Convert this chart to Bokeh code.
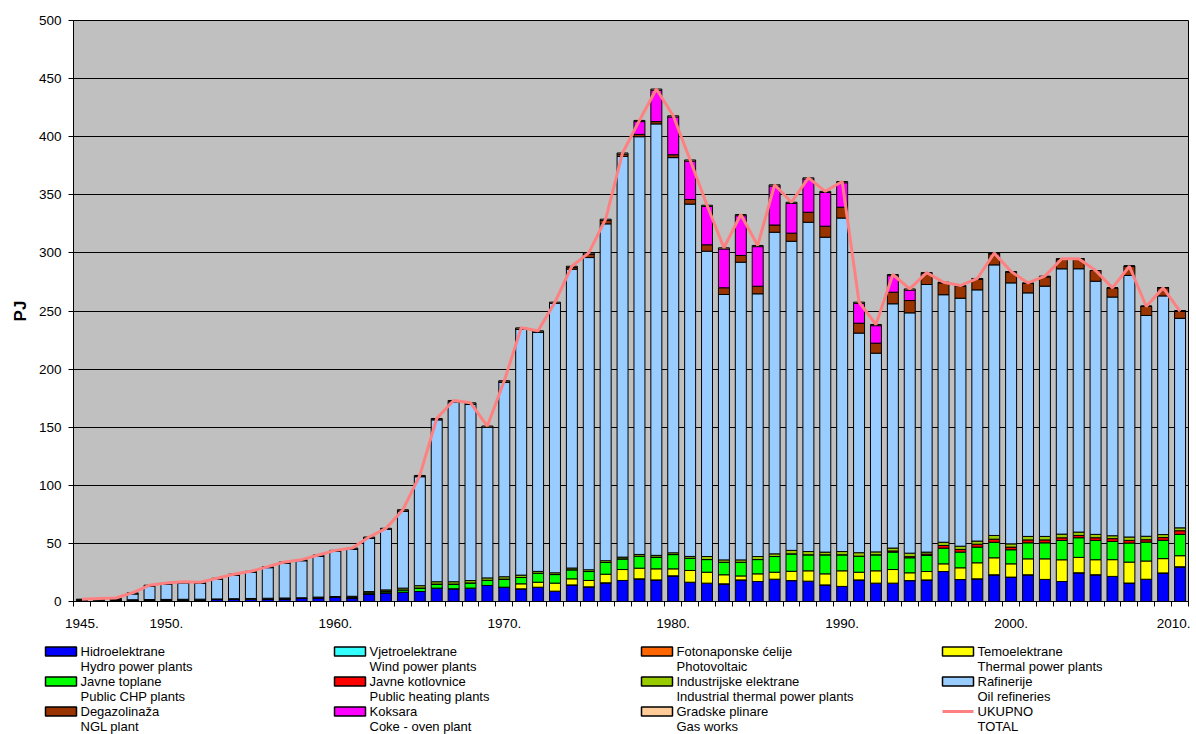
from bokeh.plotting import figure
from bokeh.models import ColumnDataSource, FixedTicker, Range1d
from bokeh.core.properties import value
from bokeh.embed import file_html
from bokeh.resources import INLINE

years = list(range(1945, 2011))

hydro = [0.5, 0.6, 0.8, 1.0, 1.2, 1.3, 1.4, 1.5, 1.7, 1.9,
         2.0, 2.2, 2.4, 2.6, 3.0, 3.5, 3.0, 6.5, 7.5, 8.0,
         8.6, 11.5, 11.0, 11.5, 13.8, 12.3, 10.9, 12.3, 8.9, 14.3,
         12.6, 16.1, 18.1, 19.5, 18.6, 22.1, 16.6, 15.8, 15.2, 18.6,
         17.2, 19.2, 18.0, 17.5, 14.3, 13.0, 18.6, 15.8, 15.8, 18.0,
         18.6, 25.8, 18.9, 19.5, 23.0, 21.0, 23.0, 19.0, 17.2, 24.7,
         23.0, 21.5, 15.8, 19.0, 24.4, 29.5]
wind = [0.0] * 59 + [0.05, 0.05, 0.1, 0.1, 0.15, 0.2, 0.4]
pv = [0.0] * 66
thermal = [0.0] * 26 + [4.3, 4.3, 6.9, 5.2, 5.5, 7.4, 9.4, 9.2, 9.5, 6.0,
                        10.1, 9.4, 7.8, 3.4, 6.6, 6.0, 8.0, 8.9, 9.5, 13.4,
                        6.6, 10.6, 11.7, 6.7, 7.2, 6.6, 10.1, 13.8, 14.6, 11.4,
                        13.7, 17.7, 18.7, 13.2, 12.9, 14.4, 18.0, 15.7, 12.3, 9.5]
chp = [0.0] * 16 + [0.5, 1.0, 1.5, 2.0, 3.0, 3.5, 4.0, 4.5, 4.5, 7.0,
                    5.5, 7.8, 7.4, 7.8, 7.7, 10.1, 9.2, 10.3, 10.1, 12.3,
                    10.6, 10.9, 10.8, 11.8, 12.3, 13.5, 15.0, 13.8, 16.4, 13.8,
                    13.8, 13.8, 15.0, 12.9, 13.8, 13.5, 13.5, 13.5, 13.4, 12.1,
                    13.8, 13.8, 16.6, 16.9, 16.6, 15.7, 16.4, 16.3, 15.8, 18.4]
heating = [0.0] * 48 + [1.0, 1.0, 1.2, 2.3, 2.3, 2.5, 2.6, 2.3, 2.5, 2.5,
                        2.3, 2.0, 2.3, 2.4, 2.3, 2.0, 2.3, 3.1]
industrial = [0.4, 0.5, 0.5, 0.5, 0.5, 0.5, 0.5, 0.5, 0.5, 0.5,
              0.6, 0.6, 0.6, 0.6, 0.8, 0.8, 1.0, 1.0, 1.0, 1.5,
              2.0, 2.0, 2.0, 2.0, 2.0, 2.0, 2.0, 1.5, 1.5, 1.5,
              1.5, 1.5, 1.5, 1.5, 1.5, 1.5, 1.5, 2.6, 2.0, 2.0,
              2.6, 2.3, 3.0, 2.8, 2.3, 2.8, 3.0, 2.5, 2.5, 3.0,
              1.7, 2.8, 2.8, 2.7, 3.2, 2.8, 3.0, 3.0, 3.2, 2.9,
              2.9, 2.5, 2.9, 3.0, 2.6, 2.5]
refinery = [0.5, 0.8, 1.0, 5.2, 11.5, 13.4, 14.3, 13.7, 17.0, 20.3,
            22.6, 26.4, 30.2, 32.0, 35.4, 38.9, 40.7, 46.2, 52.2, 66.5,
            93.9, 139.5, 155.0, 152.0, 129.7, 167.7, 211.8, 206.1, 231.9, 257.2,
            268.7, 289.9, 344.8, 359.5, 371.3, 340.1, 303.2, 262.8, 228.4, 256.2,
            226.1, 276.8, 266.0, 283.4, 271.0, 287.0, 189.0, 171.0, 210.2, 206.8,
            230.3, 213.0, 213.4, 216.2, 232.9, 224.6, 209.6, 215.4, 228.3, 226.6,
            217.9, 205.4, 225.1, 190.0, 205.4, 180.3]
ngl = [0.0] * 29 + [1.5, 3.0, 3.0, 2.0, 2.0, 2.0, 2.5, 4.0, 5.5, 5.8,
                    5.8, 6.5, 6.2, 7.0, 8.6, 9.5, 9.3, 8.5, 8.6, 10.0,
                    10.6, 9.7, 10.3, 10.4, 9.3, 9.6, 9.2, 8.1, 8.1, 8.2,
                    8.7, 9.2, 8.0, 8.0, 7.9, 7.1, 6.3]
coke = [0.0] * 33 + [11.0, 27.0, 32.5, 33.0, 33.0, 33.4, 34.2, 34.1, 33.6, 25.6,
                     28.6, 29.0, 21.1, 17.1, 15.1, 14.2, 9.0] + [0.0] * 16
gasworks = [0.6, 0.6, 0.7] + [0.8] * 16 + [1.0] * 31 + [0.5] * 9 + [0.0] * 7
total = [2.0, 2.5, 3.0, 7.5, 14.0, 16.0, 17.0, 16.5, 20.0, 23.5,
         26.0, 30.0, 34.0, 36.0, 40.0, 44.0, 46.0, 55.5, 63.0, 79.0,
         108.5, 157.5, 173.0, 171.0, 151.0, 190.0, 235.5, 233.0, 257.6, 288.5,
         300.0, 329.0, 386.0, 414.0, 441.0, 418.0, 380.0, 341.0, 304.4, 333.0,
         306.4, 358.6, 343.6, 364.6, 353.0, 361.4, 257.6, 238.4, 281.4, 269.0,
         283.0, 274.8, 271.9, 278.0, 299.8, 283.9, 274.2, 280.0, 295.0, 295.0,
         284.8, 269.9, 288.5, 253.9, 269.9, 249.6]

series_keys = ["hydro", "wind", "pv", "thermal", "chp", "heating", "industrial",
               "refinery", "ngl", "coke", "gasworks"]
labels_hr = ["Hidroelektrane", "Vjetroelektrane", "Fotonaponske ćelije", "Temoelektrane",
             "Javne toplane", "Javne kotlovnice", "Industrijske elektrane", "Rafinerije",
             "Degazolinaža", "Koksara", "Gradske plinare"]
labels_en = ["Hydro power plants", "Wind power plants", "Photovoltaic", "Thermal power plants",
             "Public CHP plants", "Public heating plants", "Industrial thermal power plants",
             "Oil refineries", "NGL plant", "Coke - oven plant", "Gas works"]
total_hr = "UKUPNO"
total_en = "TOTAL"
colors = ["#0000FF", "#33FFFF", "#FF6600", "#FFFF00", "#00FF00", "#FF0000", "#99CC00",
          "#99CCFF", "#993300", "#FF00FF", "#FFCC99"]
total_color = "#FF8080"
x_tick_years = [1945, 1950, 1960, 1970, 1980, 1990, 2000, 2010]

source = ColumnDataSource(dict(year=years, hydro=hydro, wind=wind, pv=pv, thermal=thermal,
                               chp=chp, heating=heating, industrial=industrial,
                               refinery=refinery, ngl=ngl, coke=coke, gasworks=gasworks,
                               total=total))

FONT = "Liberation Sans"
W = 1190

# ---------------- main chart ----------------
p = figure(width=W, height=638, output_backend="svg", toolbar_location=None,
           x_range=Range1d(years[0] - 0.5, years[-1] + 0.5), y_range=Range1d(0, 500),
           min_border_left=73, min_border_top=20, min_border_right=2, min_border_bottom=37,
           border_fill_color="#FFFFFF")
p.background_fill_color = "#C0C0C0"
p.outline_line_color = "#000000"
p.outline_line_width = 1

p.vbar_stack(series_keys, x="year", width=0.65, color=colors,
             line_color="#000000", line_width=1, source=source)
p.line("year", "total", source=source, line_color=total_color, line_width=3)

p.xaxis.ticker = FixedTicker(ticks=x_tick_years,
                             minor_ticks=[years[0] - 0.5 + i for i in range(len(years) + 1)])
p.xaxis.major_label_overrides = {y: f"{y}." for y in x_tick_years}
p.xaxis.major_tick_line_color = None
p.xaxis.major_tick_out = 0
p.xaxis.major_tick_in = 0
p.xaxis.minor_tick_out = 5
p.xaxis.minor_tick_in = 0
p.xaxis.minor_tick_line_color = "#000000"
p.xaxis.axis_line_color = "#000000"
p.xaxis.major_label_text_font = FONT
p.xaxis.major_label_text_font_size = "13.5px"
p.xaxis.major_label_text_color = "#000000"
p.xaxis.major_label_standoff = 12

p.yaxis.ticker = FixedTicker(ticks=list(range(0, 501, 50)))
p.yaxis.minor_tick_line_color = None
p.yaxis.major_tick_out = 5
p.yaxis.major_tick_in = 0
p.yaxis.major_tick_line_color = "#000000"
p.yaxis.axis_line_color = "#000000"
p.yaxis.major_label_text_font = FONT
p.yaxis.major_label_text_font_size = "13.5px"
p.yaxis.major_label_text_color = "#000000"
p.yaxis.major_label_standoff = 7
p.yaxis.axis_label = "PJ"
p.yaxis.axis_label_text_font = FONT
p.yaxis.axis_label_text_font_size = "17px"
p.yaxis.axis_label_text_font_style = "bold"
p.yaxis.axis_label_text_color = "#000000"
p.yaxis.axis_label_standoff = 6

p.xgrid.grid_line_color = None
p.ygrid.grid_line_color = "#000000"
p.ygrid.grid_line_width = 1

# ---------------- legend (separate strip, pixel-like coordinates) ----------------
LH = 96
lg = figure(width=W, height=LH, output_backend="svg", toolbar_location=None,
            x_range=Range1d(0, W), y_range=Range1d(LH, 0),
            x_axis_location=None, y_axis_location=None,
            min_border_left=0, min_border_right=0, min_border_top=0, min_border_bottom=0,
            outline_line_color=None, border_fill_color="#FFFFFF")
lg.background_fill_color = "#FFFFFF"
lg.grid.visible = False

col_x = [45, 334, 641, 942]
sw_w, sw_h = 31, 9
row0, row_step, line_step = 13, 30, 14.5

sx, sy, sc = [], [], []
tx, ty, tt = [], [], []
for k in range(len(series_keys) + 1):
    r, c = divmod(k, 4)
    x0 = col_x[c]
    y0 = row0 + r * row_step
    if k < len(series_keys):
        sx.append(x0 + sw_w / 2)
        sy.append(y0)
        sc.append(colors[k])
        tt += [labels_hr[k], labels_en[k]]
    else:
        lg.line([x0, x0 + sw_w], [y0, y0], line_color=total_color, line_width=3)
        tt += [total_hr, total_en]
    tx += [x0 + sw_w + 4, x0 + sw_w + 4]
    ty += [y0, y0 + line_step]

lg.rect(sx, sy, width=sw_w, height=sw_h, fill_color=sc, line_color="#000000", line_width=1.5)
lg.text(tx, ty, text=tt, text_baseline="middle", text_align="left",
        text_font=value(FONT), text_font_size="13px", text_color="#000000")

open("out.html", "w").write(file_html([p, lg], INLINE))
